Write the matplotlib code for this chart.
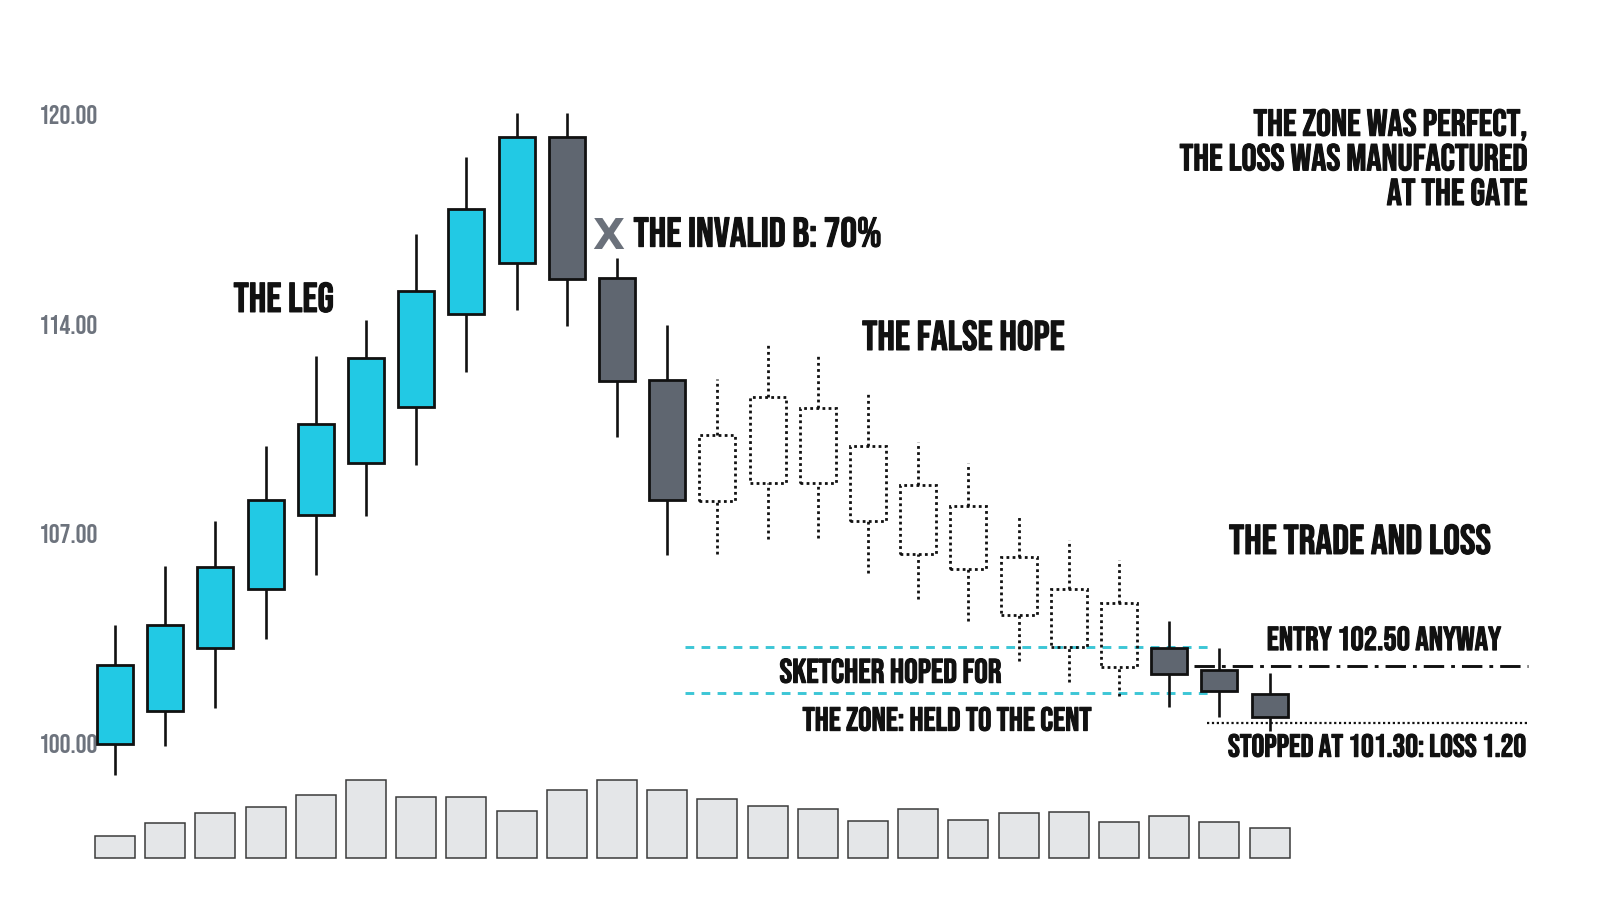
import numpy as np
import matplotlib
matplotlib.use('Agg')
import matplotlib.pyplot as plt
from matplotlib.patches import Rectangle
import matplotlib.patheffects as pe

# OHLC, one entry per candle
opens = [100.00, 101.09, 103.18, 105.15, 107.64, 109.37, 111.23, 114.33, 116.04,
         120.26, 115.55, 112.14,
         110.30, 111.58, 111.19, 109.94, 108.63, 107.94, 106.24, 105.16, 104.68,
         103.18, 102.45, 101.65]
highs = [103.94, 105.91, 107.44, 109.93, 112.94, 114.15, 117.01, 119.58, 121.05,
         121.05, 116.22, 113.97,
         112.17, 113.40, 112.95, 111.77, 110.08, 109.38, 107.64, 106.78, 106.13,
         104.09, 103.20, 102.36]
lows = [98.95, 99.92, 101.18, 103.49, 105.61, 107.58, 109.31, 112.42, 114.46,
        113.93, 110.23, 106.31,
        106.32, 106.82, 106.87, 105.70, 104.82, 104.09, 102.75, 102.06, 101.60,
        101.23, 100.89, 100.43]
closes = [102.63, 103.97, 105.88, 108.13, 110.66, 112.88, 115.12, 117.83, 120.26,
          115.52, 112.09, 108.14,
          108.10, 108.71, 108.71, 107.44, 106.33, 105.82, 104.30, 103.23, 102.56,
          102.32, 101.75, 100.89]
kinds = ['up'] * 9 + ['down'] * 3 + ['ghost'] * 9 + ['down'] * 3
volume = [22, 35, 45, 51, 63, 78, 61, 61, 47, 68, 78, 68,
          59, 52, 49, 37, 49, 38, 45, 46, 36, 42, 36, 30]

price_ticks = [100, 107, 114, 121]
price_tick_labels = ['100.00', '107.00', '114.00', '120.00']

zone_top = 103.23
zone_bottom = 101.70
entry_level = 102.60
stop_level = 100.67

HEAD = ['Bebas Neue', 'Oswald', 'DejaVu Sans']
CYAN = '#22c9e4'
SLATE = '#5f6670'
INK = '#111111'
GREY_TXT = '#6d737d'

# pixel layout of the reference (1600 x 914)
W, H = 1600, 914
x0_px, step_px = 115.0, 50.2      # centre of candle 0, candle spacing
y100_px, unit_px = 743.5, 29.95   # price 100 row, px per price unit
left_px = 100

fig = plt.figure(figsize=(16, 9.14), dpi=100)
fig.patch.set_facecolor('white')

xlim = ((left_px - x0_px) / step_px, (W - x0_px) / step_px)

# volume strip
vax = fig.add_axes([left_px / W, (H - 858.3) / H, (W - left_px) / W, 100 / H])
x = np.arange(len(volume))
bars = vax.bar(x, volume, width=0.8, color='#e4e6e8', edgecolor='#3a3a3a', linewidth=1.1)
for b in bars:
    b.set_clip_on(False)
vax.set_xlim(*xlim)
vax.set_ylim(0, 100)
vax.axis('off')

ax = fig.add_axes([left_px / W, 0, (W - left_px) / W, 1])
ax.patch.set_visible(False)
ax.set_xlim(*xlim)
ax.set_ylim(100 - (H - y100_px) / unit_px, 100 + y100_px / unit_px)

bw = 0.72
dots = (0, (1.0, 1.2))
for i in range(len(opens)):
    o, h, l, c = opens[i], highs[i], lows[i], closes[i]
    top, bot = max(o, c), min(o, c)
    if kinds[i] == 'ghost':
        ax.plot([i, i], [top, h], color=INK, lw=2.0, ls=dots, zorder=3)
        ax.plot([i, i], [l, bot], color=INK, lw=2.0, ls=dots, zorder=3)
        ax.add_patch(Rectangle((i - bw / 2, bot), bw, top - bot, fill=False,
                               edgecolor=INK, lw=2.0, ls=dots, zorder=3))
    else:
        face = CYAN if kinds[i] == 'up' else SLATE
        ax.plot([i, i], [l, h], color=INK, lw=1.9, zorder=2,
                solid_capstyle='butt', clip_on=False)
        ax.add_patch(Rectangle((i - bw / 2, bot), bw, top - bot, facecolor=face,
                               edgecolor=INK, lw=2.0, zorder=4, clip_on=False))

# zone, entry and stop lines
ax.hlines([zone_top, zone_bottom], 11.35, 21.8, colors='#3cc6d6', lw=2.1,
          linestyles=[(0, (3.0, 2.5))], zorder=1)
ax.hlines(entry_level, 21.5, 28.15, colors=INK, lw=2.1,
          linestyles=[(0, (7.0, 2.4, 1.3, 2.4))], zorder=1)
ax.hlines(stop_level, 21.75, 28.15, colors=INK, lw=1.6, linestyles=[dots], zorder=5)

# annotations
heavy = [pe.withStroke(linewidth=0.8, foreground=INK)]
big = dict(family=HEAD, color=INK, fontsize=30, path_effects=heavy)
small = dict(family=HEAD, color=INK, fontsize=24, path_effects=heavy)
ax.text(3.36, 114.41, 'THE LEG', ha='center', va='baseline', **big)
ax.text(9.82, 116.52, 'X', ha='center', va='baseline', family='DejaVu Sans',
        weight='bold', color='#6b717b', fontsize=30)
ax.text(10.33, 116.59, 'THE INVALID B: 70%', ha='left', va='baseline', **big)
ax.text(16.90, 113.14, 'THE FALSE HOPE', ha='center', va='baseline', **big)
ax.text(24.80, 106.33, 'THE TRADE AND LOSS', ha='center', va='baseline', **big)
ax.text(25.28, 103.12, 'ENTRY 102.50 ANYWAY', ha='center', va='baseline', **small)
ax.text(28.11, 99.56, 'STOPPED AT 101.30: LOSS 1.20', ha='right', va='baseline',
        family=HEAD, color=INK, fontsize=23, path_effects=heavy)
ax.text(15.44, 102.03, 'SKETCHER HOPED FOR', ha='center', va='baseline',
        family=HEAD, color=INK, fontsize=24.5, path_effects=heavy)
ax.text(16.58, 100.43, 'THE ZONE: HELD TO THE CENT', ha='center', va='baseline', **small)

title_lines = ['THE ZONE WAS PERFECT,', 'THE LOSS WAS MANUFACTURED', 'AT THE GATE']
for k, line in enumerate(title_lines):
    fig.text(1527.5 / W, 1 - (135.7 + 34.65 * k) / H, line, ha='right',
             va='baseline', family=HEAD, color=INK, fontsize=27, path_effects=heavy)

ax.set_xticks([])
ax.set_yticks(price_ticks, price_tick_labels)
ax.tick_params(axis='y', length=0, pad=1, labelcolor=GREY_TXT, labelsize=19.5)
for lbl in ax.get_yticklabels():
    lbl.set_family(HEAD)
for s in ax.spines.values():
    s.set_visible(False)

fig.savefig('out.png', dpi=100, facecolor='white')
